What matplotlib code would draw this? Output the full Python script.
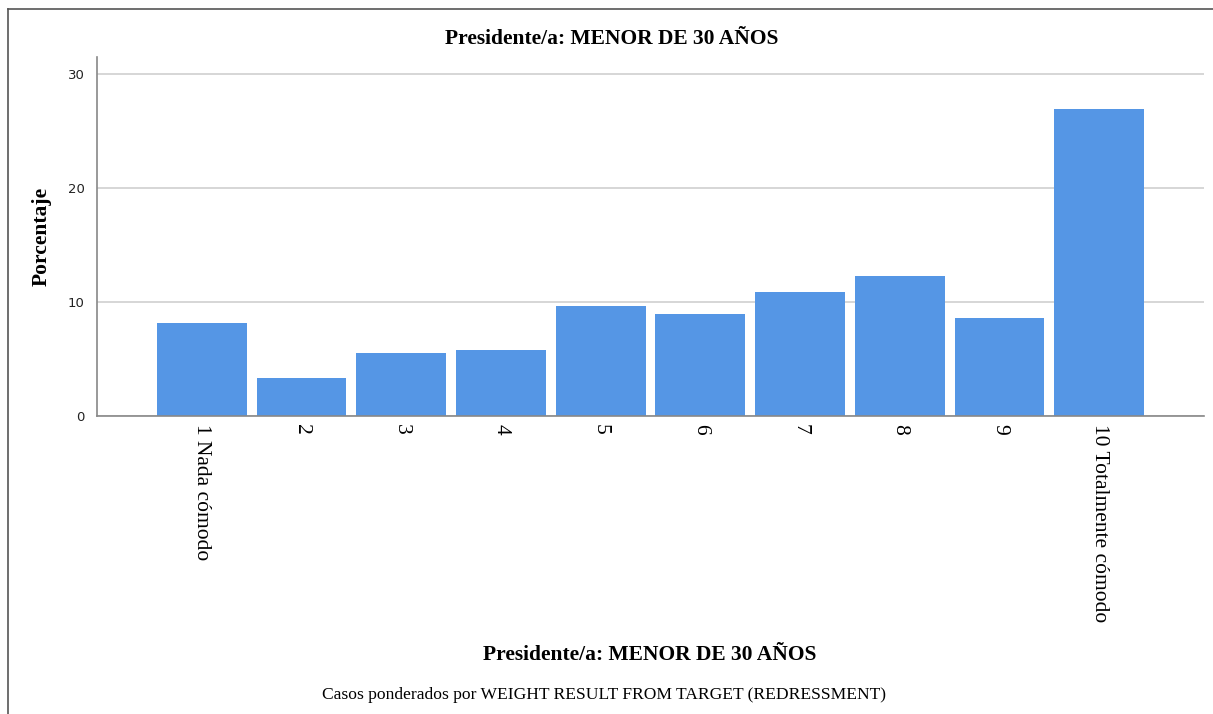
import numpy as np
import matplotlib.pyplot as plt
from matplotlib.lines import Line2D

categories = ['1 Nada cómodo', '2', '3', '4', '5', '6', '7', '8', '9', '10 Totalmente cómodo']
porcentaje = [8.15, 3.3, 5.5, 5.8, 9.65, 8.95, 10.9, 12.3, 8.6, 26.95]
yticks = [0, 10, 20, 30]

title = 'Presidente/a: MENOR DE 30 AÑOS'
footnote = 'Casos ponderados por WEIGHT RESULT FROM TARGET (REDRESSMENT)'

serif = ['Liberation Serif', 'DejaVu Serif']

fig = plt.figure(figsize=(12.13, 7.14), dpi=100)
ax = fig.add_axes([97 / 1213, 1 - 416 / 714, (1204 - 97) / 1213, (416 - 57) / 714])

x = np.arange(len(categories))
ax.bar(x, porcentaje, width=0.9, color='#5596e5', zorder=2)

ax.set_xlim(-1.05, 10.05)
ax.set_ylim(0, 31.5)
ax.set_yticks(yticks)
ax.yaxis.grid(True, color='#d0d0d0', linewidth=1.2, zorder=0)
ax.tick_params(axis='y', length=0, pad=9, labelsize=9.5, labelcolor='#222222')
ax.tick_params(axis='x', length=0, pad=6)
ax.set_xticks(x)
ax.set_xticklabels(categories, rotation=270, family=serif, fontsize=15.5, va='top', ha='center')

for side in ['top', 'right']:
    ax.spines[side].set_visible(False)
for side in ['left', 'bottom']:
    ax.spines[side].set_color('#888888')
    ax.spines[side].set_linewidth(1.2)

ax.set_ylabel('Porcentaje', family=serif, fontweight='bold', fontsize=15.5)
ax.yaxis.set_label_coords(-0.041, 0.5)
fig.text(612 / 1213, 1 - 39 / 714, title, family=serif, fontweight='bold', fontsize=15.5,
         ha='center', va='center')
fig.text(650 / 1213, 1 - 655 / 714, title, family=serif, fontweight='bold', fontsize=15.5,
         ha='center', va='center')
fig.text(604 / 1213, 1 - 695 / 714, footnote, family=serif, fontsize=12.6,
         ha='center', va='center')

# outer frame (left and top edge only)
fig.add_artist(Line2D([8 / 1213, 8 / 1213], [0, 1 - 9 / 714], transform=fig.transFigure,
                      color='#555555', linewidth=1.2))
fig.add_artist(Line2D([8 / 1213, 1], [1 - 9 / 714, 1 - 9 / 714], transform=fig.transFigure,
                      color='#555555', linewidth=1.2))

plt.savefig('out.png', dpi=100)
